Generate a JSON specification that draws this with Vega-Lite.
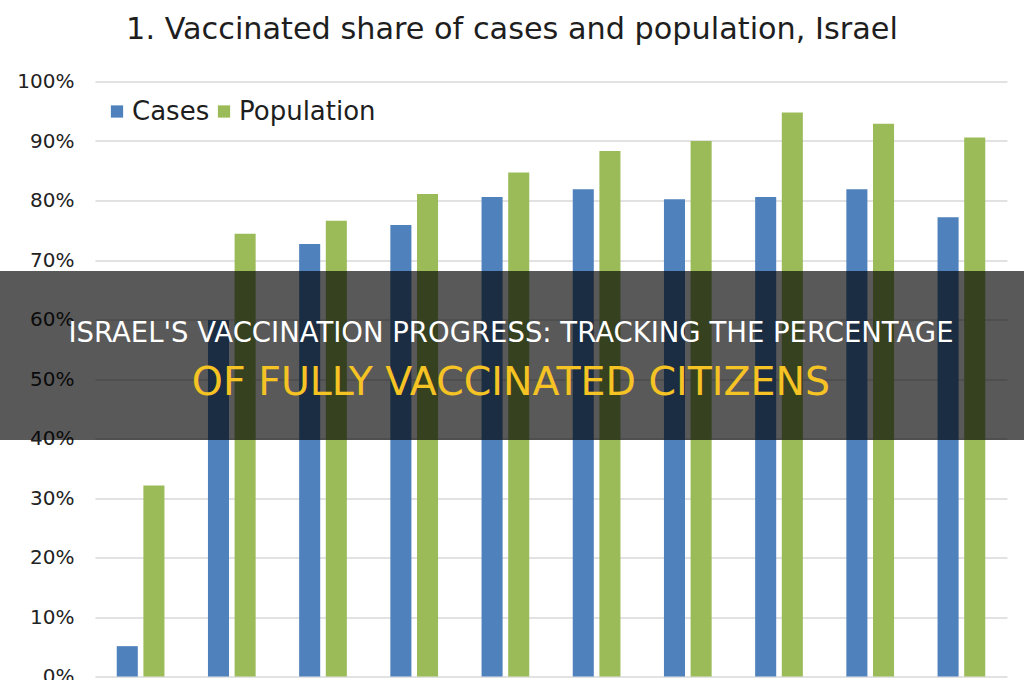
{
  "$schema": "https://vega.github.io/schema/vega-lite/v6.json",
  "width": 912,
  "height": 595,
  "autosize": "none",
  "padding": {"left": 95, "top": 81.5, "right": 17, "bottom": 3.5},
  "background": "white",
  "title": {
    "text": "1. Vaccinated share of cases and population, Israel",
    "font": "DejaVu Sans",
    "fontSize": 30.3,
    "fontWeight": "normal",
    "color": "#1e1e1e",
    "anchor": "middle",
    "dx": -39,
    "baseline": "alphabetic",
    "offset": 2.5
  },
  "config": {"view": {"stroke": null}},
  "layer": [
    {
      "data": {
        "values": [
          {"period": "1", "series": "Cases", "share": 0.051},
          {"period": "1", "series": "Population", "share": 0.321},
          {"period": "2", "series": "Cases", "share": 0.599},
          {"period": "2", "series": "Population", "share": 0.744},
          {"period": "3", "series": "Cases", "share": 0.727},
          {"period": "3", "series": "Population", "share": 0.766},
          {"period": "4", "series": "Cases", "share": 0.759},
          {"period": "4", "series": "Population", "share": 0.811},
          {"period": "5", "series": "Cases", "share": 0.806},
          {"period": "5", "series": "Population", "share": 0.847},
          {"period": "6", "series": "Cases", "share": 0.819},
          {"period": "6", "series": "Population", "share": 0.883},
          {"period": "7", "series": "Cases", "share": 0.802},
          {"period": "7", "series": "Population", "share": 0.900},
          {"period": "8", "series": "Cases", "share": 0.806},
          {"period": "8", "series": "Population", "share": 0.948},
          {"period": "9", "series": "Cases", "share": 0.819},
          {"period": "9", "series": "Population", "share": 0.929},
          {"period": "10", "series": "Cases", "share": 0.772},
          {"period": "10", "series": "Population", "share": 0.906}
        ]
      },
      "mark": {"type": "bar"},
      "encoding": {
        "x": {
          "field": "period",
          "type": "nominal",
          "sort": null,
          "axis": null,
          "scale": {"paddingInner": 0.477, "paddingOuter": 0.2385}
        },
        "xOffset": {
          "field": "series",
          "type": "nominal",
          "sort": ["Cases", "Population"],
          "scale": {"paddingInner": 0.21, "paddingOuter": 0}
        },
        "y": {
          "field": "share",
          "type": "quantitative",
          "scale": {"domain": [0, 1], "nice": false},
          "axis": {
            "title": null,
            "format": ".0%",
            "values": [0, 0.1, 0.2, 0.3, 0.4, 0.5, 0.6, 0.7, 0.8, 0.9, 1],
            "grid": true,
            "gridColor": "#d9d9d9",
            "gridWidth": 1.3,
            "domain": false,
            "ticks": false,
            "labelFont": "DejaVu Sans",
            "labelFontSize": 20,
            "labelColor": "#222222",
            "labelPadding": 21
          }
        },
        "color": {
          "field": "series",
          "type": "nominal",
          "scale": {"domain": ["Cases", "Population"], "range": ["#4f81bd", "#9bbb59"]},
          "legend": {
            "title": null,
            "orient": "none",
            "legendX": 9,
            "legendY": 17,
            "direction": "horizontal",
            "symbolType": "square",
            "symbolSize": 150,
            "symbolStrokeWidth": 0,
            "labelFont": "DejaVu Sans",
            "labelFontSize": 26,
            "labelColor": "#1e1e1e",
            "labelOffset": 2,
            "columnPadding": 1
          }
        }
      }
    },
    {
      "data": {"values": [{"item": "banner"}]},
      "mark": {"type": "rect", "color": "#000000", "opacity": 0.65, "xOffset": -140.75, "x2Offset": 62.7},
      "encoding": {
        "x": {"datum": "1"},
        "x2": {"datum": "10"},
        "y": {"datum": 0.6815},
        "y2": {"datum": 0.3975}
      }
    },
    {
      "data": {"values": [{"line": "ISRAEL'S VACCINATION PROGRESS: TRACKING THE PERCENTAGE"}]},
      "mark": {"type": "text", "font": "DejaVu Sans", "fontSize": 27.5, "color": "#ffffff", "baseline": "alphabetic", "align": "center", "dx": -40},
      "encoding": {
        "y": {"datum": 0.5615},
        "text": {"field": "line"}
      }
    },
    {
      "data": {"values": [{"line": "OF FULLY VACCINATED CITIZENS"}]},
      "mark": {"type": "text", "font": "DejaVu Sans", "fontSize": 39.5, "color": "#f5c324", "baseline": "alphabetic", "align": "center", "dx": -40},
      "encoding": {
        "y": {"datum": 0.473},
        "text": {"field": "line"}
      }
    }
  ]
}
